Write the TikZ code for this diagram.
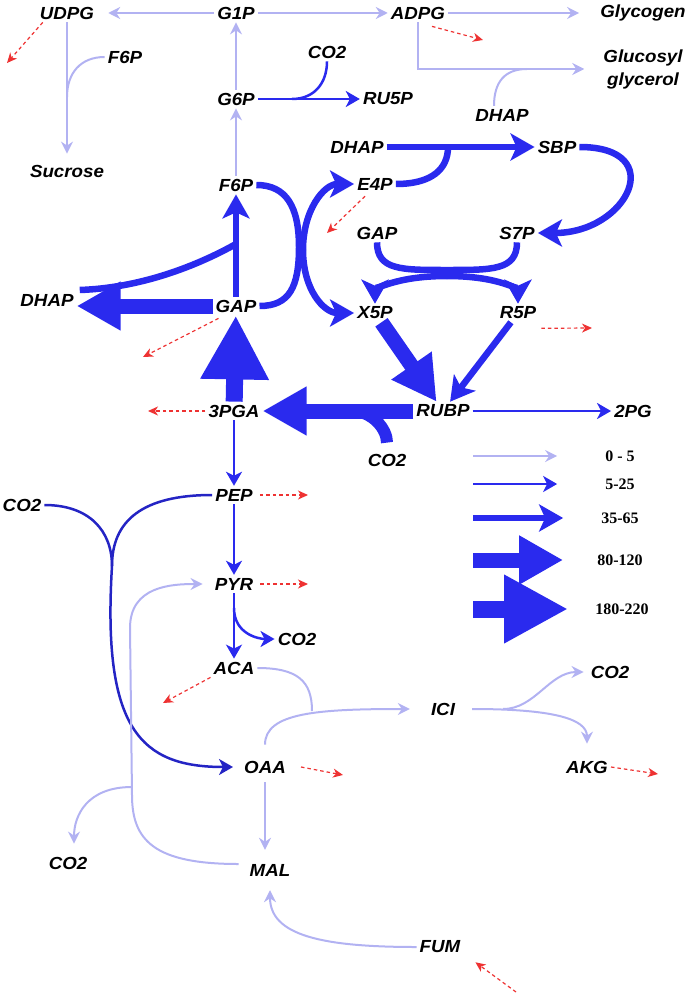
\documentclass[tikz,border=0pt]{standalone}
\usepackage{fontspec}
\usetikzlibrary{arrows.meta}
\newfontfamily\labfont{Liberation Sans}[FakeStretch=1.07]
\newfontfamily\keyfont{Liberation Serif}
\definecolor{fluxlo}{RGB}{178,178,242}
\definecolor{fluxhi}{RGB}{42,42,238}
\definecolor{fluxdk}{RGB}{36,36,196}
\definecolor{leakred}{RGB}{238,50,50}

\begin{document}
\begin{tikzpicture}[
	x=1pt, y=-1pt,
	lab/.style={
		font=\labfont\bfseries\itshape\fontsize{17.5}{23}\selectfont,
		inner sep=3pt,
		align=center
	},
	keylab/.style={
		font=\keyfont\bfseries\fontsize{16}{18}\selectfont,
		inner sep=2pt
	},
	flowA/.style={% flux 0-5
		draw=fluxlo, line width=2pt,
		-{Stealth[length=12pt,width=12pt,inset=4pt]}
	},
	flowB/.style={% flux 5-25
		draw=fluxhi, line width=2.5pt,
		-{Stealth[length=14pt,width=16pt,inset=4pt]}
	},
	flowC/.style={% flux 35-65
		draw=fluxhi, line width=6.5pt,
		-{Stealth[length=24pt,width=27pt,inset=6pt]}
	},
	flowD/.style={% flux 80-120
		draw=fluxhi, line width=15pt,
		-{Triangle[length=44pt,width=46pt]}
	},
	flowE/.style={% flux 180-220
		draw=fluxhi, line width=17pt,
		-{Triangle[length=64pt,width=64pt]}
	},
	leak/.style={
		draw=leakred, line width=1.2pt,
		dash pattern=on 3.5pt off 3pt,
		-{Stealth[length=10pt,width=9pt,inset=3pt]}
	},
]
	\useasboundingbox (0,0) rectangle (693,995);

	\node [lab] (UDPG) at (67,13) {UDPG};
	\node [lab] (G1P) at (236,13) {G1P};
	\node [lab] (ADPG) at (418,13) {ADPG};
	\node [lab] (Glycogen) at (643,13) {Glycogen};
	\node [lab] (F6Ps) at (125,57) {F6P};
	\node [lab] (CO2g) at (327,52) {CO2};
	\node [lab] (G6P) at (236,99) {G6P};
	\node [lab] (RU5P) at (388,99) {RU5P};
	\node [lab] (GG) at (643,69) {Glucosyl\\glycerol};
	\node [lab] (DHAPg) at (502,115) {DHAP};
	\node [lab] (Sucrose) at (67,171) {Sucrose};

	\node [lab] (DHAPs) at (357,147) {DHAP};
	\node [lab] (SBP) at (557,147) {SBP};
	\node [lab] (F6P) at (236,185) {F6P};
	\node [lab] (E4P) at (375,184) {E4P};
	\node [lab] (GAPt) at (377,233) {GAP};
	\node [lab] (S7P) at (517,233) {S7P};
	\node [lab] (DHAP) at (47,300) {DHAP};
	\node [lab] (GAP) at (236,306) {GAP};
	\node [lab] (X5P) at (375,313) {X5P};
	\node [lab] (R5P) at (518,313) {R5P};
	\node [lab] (PGA) at (234,411) {3PGA};
	\node [lab] (RUBP) at (443,411) {RUBP};
	\node [lab] (PG) at (633,411) {2PG};
	\node [lab] (CO2r) at (387,460) {CO2};

	\node [lab] (PEP) at (234,495) {PEP};
	\node [lab] (CO2p) at (22,505) {CO2};
	\node [lab] (PYR) at (234,584) {PYR};
	\node [lab] (CO2y) at (297,639) {CO2};
	\node [lab] (ACA) at (234,668) {ACA};
	\node [lab] (ICI) at (443,709) {ICI};
	\node [lab] (CO2i) at (610,672) {CO2};
	\node [lab] (OAA) at (265,767) {OAA};
	\node [lab] (AKG) at (587,767) {AKG};
	\node [lab] (CO2m) at (68,863) {CO2};
	\node [lab] (MAL) at (270,870) {MAL};
	\node [lab] (FUM) at (440,947) {FUM};

	% junctions
	\coordinate (gg) at (527,69);
	\coordinate (sj) at (67,97);
	\coordinate (rj) at (292,99);
	\coordinate (ej) at (448,147);
	\coordinate (tu) at (447,270);
	\coordinate (td) at (447,276);
	\coordinate (xl) at (299,247);
	\coordinate (xr) at (303,250);
	\coordinate (dj) at (236,244);
	\coordinate (cj) at (352,411);
	\coordinate (pj) at (234,608);
	\coordinate (oj) at (112,566);
	\coordinate (ij) at (312,711);
	\coordinate (kj) at (503,709);
	\coordinate (mb) at (132,795);
	\coordinate (mt) at (130,628);
	\coordinate (cb) at (132,787);

	% sugar synthesis
	\draw [flowA, shorten >=11pt] (G1P) -- (UDPG);
	\draw [flowA] (G1P) -- (ADPG);
	\draw [flowA, shorten >=18pt] (ADPG) -- (Glycogen);
	\draw [flowA, shorten >=16pt] (ADPG.south) |- (GG.west);
	\draw [flowA, -] ([xshift=-8pt]DHAPg.north) .. controls +(0,-24) and +(-22,0) .. (gg);
	\draw [flowA, shorten >=8pt] (UDPG) -- (Sucrose);
	\draw [flowA, -] (F6Ps.west) .. controls +(-24,0) and +(0,-24) .. (sj);
	\draw [flowA] (G6P) -- (G1P);
	\draw [flowA] (F6P) -- (G6P);
	\draw [flowB] (G6P) -- (RU5P);
	\draw [flowB, -] (CO2g.south) .. controls +(0,22) and +(22,0) .. (rj);

	% Calvin cycle
	\draw [flowC] (DHAPs) -- (SBP);
	\draw [flowC, -] (E4P.east) .. controls +(36,0) and +(0,22) .. (ej);
	\draw [flowC] (SBP.east) .. controls +(90,0) and +(90,0) .. (S7P.east);
	\draw [flowC, -] (GAPt.south) .. controls +(0,28) and +(-45,0) .. (tu)
		.. controls +(45,0) and +(0,28) .. (S7P.south);
	\draw [flowC] (td) .. controls +(-55,0) and +(0,-12) .. (X5P.north);
	\draw [flowC] (td) .. controls +(55,0) and +(0,-12) .. (R5P.north);
	\draw [flowC, -] (F6P.east) .. controls +(30,0) and +(0,-40) .. (xl)
		.. controls +(0,40) and +(30,0) .. (GAP.east);
	\draw [flowC] (xr) .. controls +(0,-40) and +(-30,0) .. (E4P.west);
	\draw [flowC] (xr) .. controls +(0,40) and +(-30,0) .. (X5P.west);
	\draw [flowC] (GAP) -- (F6P);
	\draw [flowC, -] ([shift={(3,-10)}]DHAP.east) .. controls +(58,-2) and +(-43,24) .. (dj);
	\draw [flowD] (GAP.west) -- (GAP.west -| DHAP.east);
	\draw [flowE] (PGA) -- (GAP);
	\draw [flowD] (RUBP) -- (PGA);
	\draw [flowD, -, line width=12pt, shorten <=8pt] (CO2r.north) .. controls +(0,-22) and +(20,0) .. (cj);
	\draw [flowD] (X5P) -- (RUBP);
	\draw [flowC] (R5P) -- (RUBP);
	\draw [flowB] (RUBP) -- (PG);

	% glycolysis and TCA
	\draw [flowB] (PGA) -- (PEP);
	\draw [flowB] (PEP) -- (PYR);
	\draw [flowB] (PYR) -- (ACA);
	\draw [flowB] (pj) .. controls +(0,26) and +(-16,0) .. (CO2y.west);
	\draw [flowB, -, draw=fluxdk] (CO2p.east) .. controls +(45,0) and +(0,-35) .. (oj);
	\draw [flowB, -, draw=fluxdk] (PEP.west) .. controls +(-70,0) and +(0,-45) .. (oj);
	\draw [flowB, draw=fluxdk, shorten >=8pt] (oj) .. controls +(-10,164) and +(-100,0) .. (OAA.west);
	\draw [flowA, -] (ACA.east) .. controls +(40,0) and +(0,-30) .. (ij);
	\draw [flowA, shorten <=13pt, shorten >=18pt] (OAA.north) .. controls +(0,-45) and +(-110,0) .. (ICI.west);
	\draw [flowA] ([xshift=14pt]ICI.east) .. controls +(80,0) and +(0,-25) .. ([yshift=14pt]AKG.north);
	\draw [flowA, shorten >=4pt] (kj) .. controls +(32,0) and +(-38,0) .. (CO2i.west);
	\draw [flowA, shorten <=6pt, shorten >=11pt] (OAA.south) -- (OAA.south |- MAL.north);
	\draw [flowA] (FUM.west) .. controls +(-95,0) and +(0,45) .. ([yshift=-11pt]MAL.south);
	\draw [flowA, shorten >=9pt] ([shift={(-8,-6)}]MAL.west) .. controls +(-85,0) and +(0,45) .. (mb)
		-- (mt) .. controls +(0,-42) and +(-40,0) .. (PYR.west);
	\draw [flowA, shorten >=10pt] (cb) .. controls +(-45,0) and +(0,-38) .. ([xshift=6pt]CO2m.north);

	% outflows
	\coordinate (lUDPG) at (7,63);
	\coordinate (lADPG) at (483,40);
	\coordinate (lE4P) at (327,233);
	\coordinate (lGAP) at (143,357);
	\coordinate (lR5P) at (592,328);
	\coordinate (lPGA) at (148,411);
	\coordinate (lPEP) at (308,495);
	\coordinate (lPYR) at (308,584);
	\coordinate (lACA) at (163,703);
	\coordinate (lOAA) at (343,775);
	\coordinate (lAKG) at (658,774);
	\coordinate (lFUM) at (516,992);
	\draw [leak] ([xshift=6pt]UDPG.south west) -- (lUDPG);
	\draw [leak] ([shift={(14,4)}]ADPG.south) -- (lADPG);
	\draw [leak] ([shift={(-10,3)}]E4P.south) -- (lE4P);
	\draw [leak] ([shift={(6,3)}]GAP.south west) -- (lGAP);
	\draw [leak] ([shift={(2,6)}]R5P.south east) -- (lR5P);
	\draw [leak] (PGA.west) -- (lPGA);
	\draw [leak] ([xshift=4pt]PEP.east) -- (lPEP);
	\draw [leak] ([xshift=4pt]PYR.east) -- (lPYR);
	\draw [leak] (ACA.south west) -- (lACA);
	\draw [leak] ([xshift=12pt]OAA.east) -- (lOAA);
	\draw [leak] (AKG.east) -- (lAKG);
	\draw [leak] (lFUM) -- ([shift={(12,6)}]FUM.south east);

	% key
	\node [keylab] (key1) at (620,456) {0 - 5};
	\node [keylab] (key2) at (620,484) {5-25};
	\node [keylab] (key3) at (620,518) {35-65};
	\node [keylab] (key4) at (620,560) {80-120};
	\node [keylab] (key5) at (622,609) {180-220};
	\coordinate (k1) at (473,456);
	\coordinate (k2) at (473,484);
	\coordinate (k3) at (473,518);
	\coordinate (k4) at (473,560);
	\coordinate (k5) at (473,609);
	\draw [flowA, shorten >=46pt] (k1) -- (k1 -| key1.west);
	\draw [flowB, shorten >=46pt] (k2) -- (k2 -| key2.west);
	\draw [flowC, shorten >=36pt] (k3) -- (k3 -| key3.west);
	\draw [flowD, shorten >=32pt] (k4) -- (k4 -| key4.west);
	\draw [flowE, shorten >=25pt] (k5) -- (k5 -| key5.west);
\end{tikzpicture}
\end{document}
